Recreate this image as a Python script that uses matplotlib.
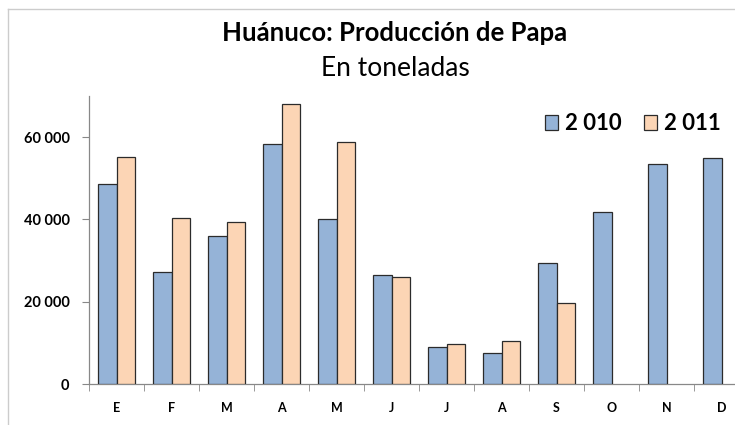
import matplotlib
matplotlib.use("Agg")
import matplotlib.pyplot as plt
from matplotlib.lines import Line2D
from matplotlib.ticker import FuncFormatter, FixedLocator
import numpy as np

months = ["E", "F", "M", "A", "M", "J", "J", "A", "S", "O", "N", "D"]
prod_2010 = [48600, 27200, 36000, 58300, 40100, 26500, 9000, 7500, 29400, 41800, 53500, 54900]
prod_2011 = [55200, 40300, 39400, 68000, 58800, 26000, 9700, 10400, 19700]
series_labels = ["2 010", "2 011"]

BLUE = "#95B3D7"
ORANGE = "#FCD5B5"
EDGE = "#2b2b2b"
AXIS = "#888888"
FONT = ["Lato", "DejaVu Sans"]

plt.rcParams["font.family"] = FONT

fig = plt.figure(figsize=(7.35, 4.25), dpi=100)
W, H = 735, 425
# axes box in pixels: x 89..749 (runs past the right edge, as in the source), y 96..384
ax = fig.add_axes([89 / W, (H - 384) / H, 660 / W, 288 / H])

x = np.arange(len(months))
w = 0.33
ax.bar(x - w / 2, prod_2010, w, color=BLUE, edgecolor=EDGE, linewidth=0.9,
       label=series_labels[0], zorder=3)
ax.bar(x[:len(prod_2011)] + w / 2, prod_2011, w, color=ORANGE, edgecolor=EDGE,
       linewidth=0.9, label=series_labels[1], zorder=3)

ax.set_xlim(-0.5, len(months) - 0.5)
ax.set_ylim(0, 70000)
ax.set_yticks([0, 20000, 40000, 60000])
ax.yaxis.set_major_formatter(FuncFormatter(lambda v, p: f"{int(v):,}".replace(",", " ")))
ax.set_xticks(x)
ax.set_xticklabels(months, fontsize=9, fontweight="bold")
ax.xaxis.set_minor_locator(FixedLocator(np.arange(-0.5, len(months), 1.0)))
ax.tick_params(axis="x", which="major", length=0, pad=13)
ax.tick_params(axis="x", which="minor", length=5, color=AXIS, direction="out")
ax.tick_params(axis="y", length=5, color=AXIS, labelsize=10.5, pad=9)
for lab in ax.get_yticklabels():
    lab.set_fontweight("bold")

for s in ["top", "right"]:
    ax.spines[s].set_visible(False)
for s in ["left", "bottom"]:
    ax.spines[s].set_color(AXIS)
    ax.spines[s].set_linewidth(0.9)

ax.legend(loc="upper right", bbox_to_anchor=((734 - 89) / 660, 1.0 - 4 / 288),
          ncol=2, frameon=False, prop={"family": FONT, "weight": "bold", "size": 16},
          handlelength=0.6, handleheight=0.6, handletextpad=0.3, columnspacing=1.0,
          borderaxespad=0.2)

cx = 395 / W
fig.text(cx, 1 - 33 / H, "Huánuco: Producción de Papa", ha="center", va="center",
         fontsize=18.5, fontweight="bold")
fig.text(cx, 1 - 69 / H, "En toneladas", ha="center", va="center", fontsize=19)

# chart-area border (left and top edges visible in the crop)
fig.add_artist(Line2D([8 / W, 8 / W], [0, 1 - 9 / H], transform=fig.transFigure,
                      color="#cccccc", lw=1))
fig.add_artist(Line2D([8 / W, 1], [1 - 9 / H, 1 - 9 / H], transform=fig.transFigure,
                      color="#cccccc", lw=1))

fig.savefig("out.png", dpi=100, facecolor="white")
